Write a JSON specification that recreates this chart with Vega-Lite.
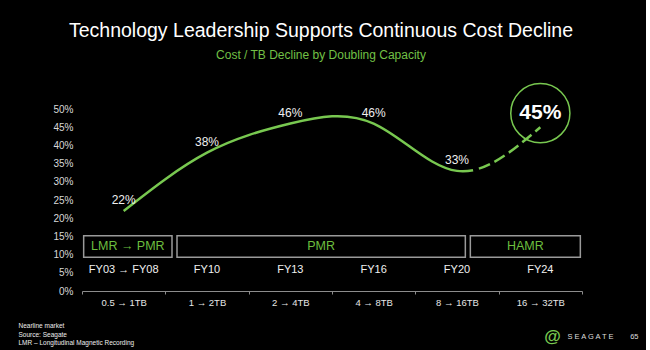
{
  "$schema": "https://vega.github.io/schema/vega-lite/v6.json",
  "autosize": "none",
  "width": 500,
  "height": 182,
  "padding": {"left": 82, "top": 109, "right": 64, "bottom": 59},
  "background": "#000000",
  "config": {
    "font": "Liberation Sans",
    "view": {"stroke": null},
    "axis": {"grid": false, "labelFont": "Liberation Sans", "titleFont": "Liberation Sans"},
    "axisY": {"labelOverlap": false, "labelSeparation": 0, "labelColor": "#d9d9d9", "labelFontSize": 10, "labelPadding": 9, "domain": false, "ticks": false}
  },
  "title": {
    "text": "Technology Leadership Supports Continuous Cost Decline",
    "subtitle": "Cost / TB Decline by Doubling Capacity",
    "anchor": "middle",
    "dx": -11,
    "offset": 19,
    "fontSize": 19.5,
    "fontWeight": "normal",
    "color": "#ffffff",
    "subtitleColor": "#72c046",
    "subtitleFontSize": 12,
    "subtitlePadding": 8,
    "font": "Liberation Sans",
    "subtitleFont": "Liberation Sans"
  },
  "datasets": {
    "main": [
      {"cap": "0.5 → 1TB", "fy": "FY03 → FY08", "value": 0.22},
      {"cap": "1 → 2TB", "fy": "FY10", "value": 0.38},
      {"cap": "2 → 4TB", "fy": "FY13", "value": 0.46},
      {"cap": "4 → 8TB", "fy": "FY16", "value": 0.46},
      {"cap": "8 → 16TB", "fy": "FY20", "value": 0.33},
      {"cap": "16 → 32TB", "fy": "FY24", "value": 0.45}
    ],
    "boxes": [
      {"label": "LMR → PMR", "start": -0.48, "end": 0.58, "mid": 0.05},
      {"label": "PMR", "start": 0.64, "end": 4.1, "mid": 2.37},
      {"label": "HAMR", "start": 4.16, "end": 5.48, "mid": 4.82}
    ]
  },
  "layer": [
    {
      "data": {"name": "main"},
      "layer": [
        {
          "mark": {"type": "line", "interpolate": "natural", "strokeWidth": 2.5, "color": "#78c850",
                   "strokeDash": [388, 6, 12, 5, 12, 5, 12, 5, 12, 5, 12, 5, 12, 5, 12, 5, 12, 5]},
          "encoding": {
            "x": {
              "field": "cap", "type": "nominal", "sort": null,
              "scale": {"type": "band", "paddingInner": 0, "paddingOuter": 0},
              "axis": {
                "orient": "bottom",
                "domainColor": "#8c8c8c", "domainWidth": 1,
                "tickBand": "extent", "tickColor": "#8c8c8c", "tickSize": 3, "tickWidth": 1,
                "labelColor": "#e6e6e6", "labelFontSize": 9.5, "labelPadding": 3.5, "labelAngle": 0,
                "title": ["Nearline market", "Source: Seagate", "LMR – Longitudinal Magnetic Recording"],
                "titleX": -64, "titleY": 31.5, "titleAlign": "left", "titleBaseline": "top",
                "titleFontSize": 6.5, "titleLineHeight": 8.7, "titleFontWeight": "normal", "titleColor": "#eeeeee"
              }
            },
            "y": {
              "field": "value", "type": "quantitative",
              "scale": {"domain": [0, 0.5], "nice": false, "zero": true},
              "axis": {
                "values": [0, 0.05, 0.1, 0.15, 0.2, 0.25, 0.3, 0.35, 0.4, 0.45, 0.5],
                "format": ".0%", "labelOverlap": false,
                "title": "S E A G A T E\u00a0\u00a0\u00a0\u00a0\u00a0\u00a0\u00a0\u00a065",
                "titleAngle": 0, "titleX": 485, "titleY": 227, "titleAlign": "left", "titleBaseline": "middle",
                "titleFontSize": 7.5, "titleFontWeight": "normal", "titleColor": "#dddddd"
              }
            }
          }
        },
        {
          "transform": [{"filter": "datum.fy !== 'FY24'"}],
          "mark": {"type": "text", "fontSize": 12, "color": "#f0f0f0", "dy": -11, "baseline": "middle"},
          "encoding": {
            "x": {"field": "cap", "type": "nominal", "sort": null},
            "y": {"field": "value", "type": "quantitative", "axis": {"values": [0, 0.05, 0.1, 0.15, 0.2, 0.25, 0.3, 0.35, 0.4, 0.45, 0.5], "labelOverlap": false}},
            "text": {"field": "value", "type": "quantitative", "format": ".0%"}
          }
        },
        {
          "transform": [{"filter": "datum.fy === 'FY24'"}],
          "mark": {"type": "point", "shape": "circle", "filled": false, "size": 3500, "strokeWidth": 1.5, "color": "#78c850", "opacity": 1, "yOffset": -14},
          "encoding": {
            "x": {"field": "cap", "type": "nominal", "sort": null},
            "y": {"field": "value", "type": "quantitative", "axis": {"values": [0, 0.05, 0.1, 0.15, 0.2, 0.25, 0.3, 0.35, 0.4, 0.45, 0.5], "labelOverlap": false}}
          }
        },
        {
          "transform": [{"filter": "datum.fy === 'FY24'"}],
          "mark": {"type": "text", "fontSize": 21, "fontWeight": "bold", "color": "#ffffff", "baseline": "middle", "yOffset": -14},
          "encoding": {
            "x": {"field": "cap", "type": "nominal", "sort": null},
            "y": {"field": "value", "type": "quantitative", "axis": {"values": [0, 0.05, 0.1, 0.15, 0.2, 0.25, 0.3, 0.35, 0.4, 0.45, 0.5], "labelOverlap": false}},
            "text": {"field": "value", "type": "quantitative", "format": ".0%"}
          }
        },
        {
          "mark": {"type": "text", "fontSize": 11, "color": "#f0f0f0", "baseline": "middle"},
          "encoding": {
            "x": {"field": "cap", "type": "nominal", "sort": null},
            "y": {"datum": 0.058, "type": "quantitative", "axis": {"values": [0, 0.05, 0.1, 0.15, 0.2, 0.25, 0.3, 0.35, 0.4, 0.45, 0.5], "labelOverlap": false}},
            "text": {"field": "fy", "type": "nominal"}
          }
        }
      ]
    },
    {
      "data": {"name": "boxes"},
      "layer": [
        {
          "mark": {"type": "rect", "fill": "transparent", "stroke": "#9a9a9a", "strokeWidth": 1.5},
          "encoding": {
            "x": {
              "field": "start", "type": "quantitative",
              "scale": {"domain": [-0.5, 5.5], "nice": false, "zero": false},
              "axis": {
                "orient": "top", "domain": false, "ticks": false, "labels": false, "grid": false,
                "title": "@", "titleAngle": 0, "titleX": 470, "titleY": 227, "titleAlign": "center", "titleBaseline": "middle",
                "titleFontSize": 17, "titleFontWeight": "bold", "titleColor": "#78c850"
              }
            },
            "x2": {"field": "end"},
            "y": {"datum": 0.152, "type": "quantitative", "axis": {"values": [0, 0.05, 0.1, 0.15, 0.2, 0.25, 0.3, 0.35, 0.4, 0.45, 0.5], "labelOverlap": false}},
            "y2": {"datum": 0.0926}
          }
        },
        {
          "mark": {"type": "text", "fontSize": 12.5, "color": "#6cbf3f", "baseline": "middle"},
          "encoding": {
            "x": {"field": "mid", "type": "quantitative"},
            "y": {"datum": 0.124, "type": "quantitative", "axis": {"values": [0, 0.05, 0.1, 0.15, 0.2, 0.25, 0.3, 0.35, 0.4, 0.45, 0.5], "labelOverlap": false}},
            "text": {"field": "label", "type": "nominal"}
          }
        }
      ]
    }
  ],
  "resolve": {"scale": {"x": "independent"}, "axis": {"x": "independent"}}
}
